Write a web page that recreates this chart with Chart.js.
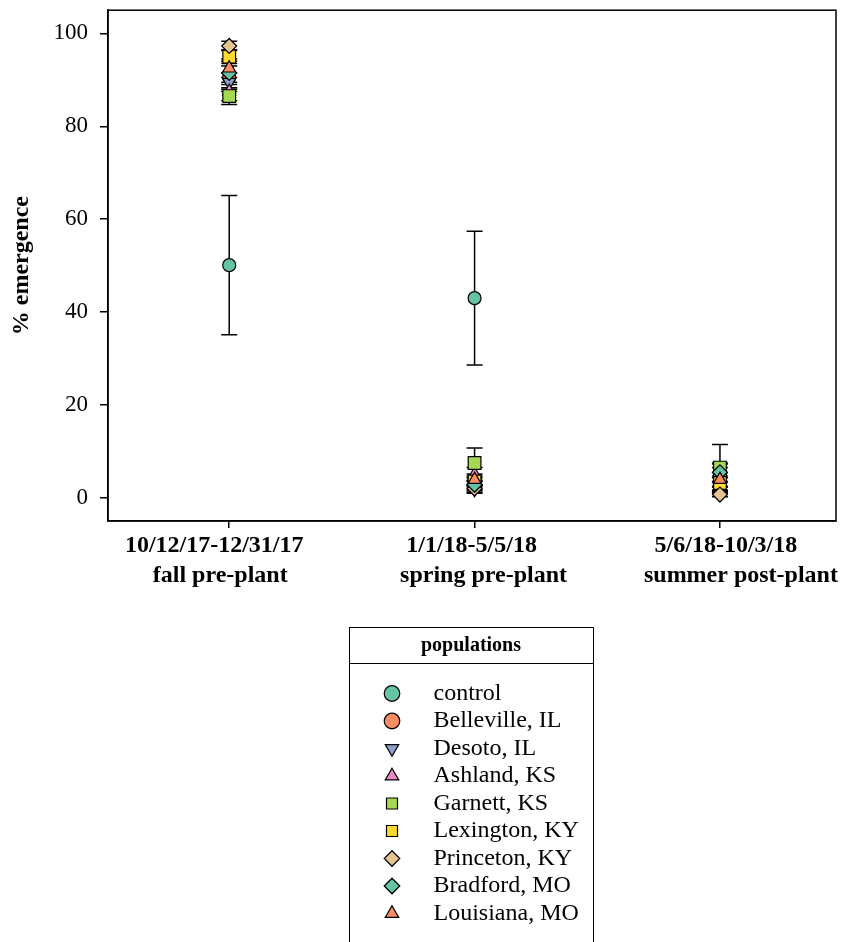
<!DOCTYPE html>
<html>
<head>
<meta charset="utf-8">
<script src="https://cdn.jsdelivr.net/npm/chart.js@4/dist/chart.umd.min.js"></script>
<style>
  html, body { margin: 0; padding: 0; background: #fff; }
  body { width: 848px; height: 942px; position: relative; overflow: hidden; }
  #mainCanvas { position: absolute; left: 0; top: 0; }
  #legWrap { position: absolute; left: 349px; top: 627px; width: 260px; height: 600px; }
  #legBox { position: absolute; left: 349px; top: 627px; width: 243px; height: 400px; border: 1.5px solid #000; box-sizing: content-box; pointer-events: none; }
  #legDivider { position: absolute; left: 349px; top: 663px; width: 245px; height: 0; border-top: 1.5px solid #000; pointer-events: none; }
</style>
</head>
<body>
<canvas id="mainCanvas" width="848" height="600"></canvas>
<div id="legWrap"><canvas id="legCanvas" width="260" height="600"></canvas></div>
<div id="legBox"></div>
<div id="legDivider"></div>
<script>
// ---------------- data ----------------
const periodDates = ['10/12/17-12/31/17', '1/1/18-5/5/18', '5/6/18-10/3/18'];
const periodNames = ['fall pre-plant', 'spring pre-plant', 'summer post-plant'];
const yTicks = [0, 20, 40, 60, 80, 100];

const populations = ['control', 'Belleville, IL', 'Desoto, IL', 'Ashland, KS', 'Garnett, KS',
                     'Lexington, KY', 'Princeton, KY', 'Bradford, MO', 'Louisiana, MO'];

// mean % emergence per period (fall, spring, summer)
const controlMean    = [50.1, 43.0, 4.8];
const bellevilleMean = [90.5, 2.5, 2.8];
const desotoMean     = [89.5, 1.8, 2.2];
const ashlandMean    = [87.5, 5.0, 4.5];
const garnettMean    = [86.5, 7.5, 6.5];
const lexingtonMean  = [95.0, 3.5, 3.2];
const princetonMean  = [97.3, 2.0, 0.7];
const bradfordMean   = [91.5, 2.8, 5.5];
const louisianaMean  = [92.5, 3.9, 3.9];

// standard errors
const controlErr    = [15.0, 14.4, 2.5];
const bellevilleErr = [2.5, 1.0, 1.5];
const desotoErr     = [2.0, 0.8, 1.2];
const ashlandErr    = [2.0, 1.5, 2.0];
const garnettErr    = [1.8, 3.2, 5.0];
const lexingtonErr  = [1.5, 1.2, 1.5];
const princetonErr  = [1.0, 0.8, 0.5];
const bradfordErr   = [2.5, 1.0, 2.0];
const louisianaErr  = [2.0, 1.2, 1.5];

const means = [controlMean, bellevilleMean, desotoMean, ashlandMean, garnettMean,
               lexingtonMean, princetonMean, bradfordMean, louisianaMean];
const errs  = [controlErr, bellevilleErr, desotoErr, ashlandErr, garnettErr,
               lexingtonErr, princetonErr, bradfordErr, louisianaErr];

// ---------------- styles ----------------
const fillColors = ['#66C2A5', '#FC8D62', '#8DA0CB', '#E78AC3', '#A6D854',
                    '#FFD92F', '#E5C494', '#66C2A5', '#FC8D62'];
const markerStyles = ['circle', 'circle', 'triangle', 'triangle', 'rect',
                      'rect', 'rectRot', 'rectRot', 'triangle'];
const markerRotation = [0, 0, 180, 0, 0, 0, 0, 0, 0];
const markerRadius = { circle: 6.5, triangle: 7.5, rect: 9, rectRot: 7.5 };
// spaces used to nudge tick label lines (leading, trailing)
const dateLinePad = [[0, 5], [0, 1], [2, 0]];
const nameLinePad = [[0, 3], [3, 0], [7, 0]];
const sp = n => ' '.repeat(n);

const SERIF = "'Liberation Serif', 'Times New Roman', serif";

// ---------------- plugins ----------------
const errorBars = {
  id: 'errorBars',
  beforeDatasetsDraw(chart) {
    const { ctx } = chart;
    const xs = chart.scales.x, ys = chart.scales.y;
    ctx.save();
    ctx.strokeStyle = '#000';
    ctx.lineWidth = 1.5;
    means.forEach((m, i) => {
      m.forEach((v, j) => {
        const x = xs.getPixelForValue(j);
        const yHi = ys.getPixelForValue(v + errs[i][j]);
        const yLo = ys.getPixelForValue(v - errs[i][j]);
        ctx.beginPath();
        ctx.moveTo(x, yHi); ctx.lineTo(x, yLo);
        ctx.moveTo(x - 8, yHi); ctx.lineTo(x + 8, yHi);
        ctx.moveTo(x - 8, yLo); ctx.lineTo(x + 8, yLo);
        ctx.stroke();
      });
    });
    ctx.restore();
  }
};
const frame = {
  id: 'frame',
  afterDraw(chart) {
    const { ctx, chartArea: a } = chart;
    ctx.save();
    ctx.strokeStyle = '#000';
    ctx.lineWidth = 1.5;
    ctx.strokeRect(a.left, a.top, a.right - a.left, a.bottom - a.top);
    ctx.restore();
  }
};

// ---------------- main chart ----------------
const datasets = populations.map((name, i) => ({
  label: name,
  data: means[i].map((v, j) => ({ x: j, y: v })),
  pointStyle: markerStyles[i],
  rotation: markerRotation[i],
  radius: markerRadius[markerStyles[i]],
  hoverRadius: markerRadius[markerStyles[i]],
  backgroundColor: fillColors[i],
  borderColor: '#000',
  borderWidth: 1.2,
  showLine: false,
  order: -i
}));

new Chart(document.getElementById('mainCanvas'), {
  type: 'scatter',
  data: { datasets },
  plugins: [errorBars, frame],
  options: {
    responsive: false,
    animation: false,
    events: [],
    layout: { padding: { left: 0, top: 9, right: 12, bottom: 0 } },
    scales: {
      x: {
        type: 'linear',
        min: -0.494,
        max: 2.473,
        afterBuildTicks: s => { s.ticks = periodDates.map((_, j) => ({ value: j })); },
        afterFit: s => { s.height = 79; s.paddingLeft = 0; s.paddingRight = 0; },
        ticks: {
          autoSkip: false,
          maxRotation: 0,
          padding: 3,
          color: '#000',
          font: { family: SERIF, size: 24, weight: 'bold', lineHeight: 1.25 },
          callback: v => [
            sp(dateLinePad[v][0]) + periodDates[v] + sp(dateLinePad[v][1]),
            sp(nameLinePad[v][0]) + periodNames[v] + sp(nameLinePad[v][1])
          ]
        },
        grid: { display: true, drawOnChartArea: false, drawTicks: true, tickLength: 7, color: '#000', lineWidth: 1.5 },
        border: { display: true, color: '#000', width: 1.5 }
      },
      y: {
        type: 'linear',
        min: -5,
        max: 105,
        afterBuildTicks: s => { s.ticks = yTicks.map(v => ({ value: v })); },
        afterFit: s => { s.width = 108; s.paddingTop = 0; s.paddingBottom = 0; },
        ticks: {
          padding: 12,
          color: '#000',
          font: { family: SERIF, size: 23 }
        },
        grid: { display: true, drawOnChartArea: false, drawTicks: true, tickLength: 8, color: '#000', lineWidth: 1.5 },
        border: { display: true, color: '#000', width: 1.5 },
        title: {
          display: true,
          text: '% emergence',
          color: '#000',
          font: { family: SERIF, size: 24, weight: 'bold' },
          padding: { top: 7.6, bottom: 0 }
        }
      }
    },
    plugins: {
      legend: { display: false },
      tooltip: { enabled: false }
    }
  }
});

// ---------------- legend chart ----------------
new Chart(document.getElementById('legCanvas'), {
  type: 'scatter',
  data: { datasets: populations.map((name, i) => ({ label: name, data: [] })) },
  options: {
    responsive: false,
    animation: false,
    events: [],
    layout: { padding: { left: 34, right: 0, top: 0, bottom: 0 } },
    scales: {
      x: { display: false },
      y: { display: false },
      yr: {
        type: 'linear', position: 'right', display: true,
        ticks: { display: false }, grid: { display: false }, border: { display: false },
        afterFit: s => { s.width = 50; s.paddingTop = 0; s.paddingBottom = 0; }
      }
    },
    plugins: {
      tooltip: { enabled: false },
      title: {
        display: true,
        fullSize: false,
        text: 'populations',
        color: '#000',
        font: { family: SERIF, size: 20, weight: 'bold' },
        padding: { top: 6.5, bottom: 20.5 }
      },
      legend: {
        display: true,
        fullSize: true,
        position: 'top',
        align: 'start',
        labels: {
          usePointStyle: true,
          boxWidth: 11,
          boxHeight: 11,
          padding: 3.5,
          color: '#000',
          font: { family: SERIF, size: 24 },
          generateLabels: () => populations.map((name, i) => ({
            text: sp(4) + name,
            fillStyle: fillColors[i],
            strokeStyle: '#000',
            lineWidth: 1.2,
            pointStyle: markerStyles[i],
            rotation: markerRotation[i],
            hidden: false,
            datasetIndex: i,
            fontColor: '#000'
          }))
        }
      }
    }
  }
});
</script>
</body>
</html>
